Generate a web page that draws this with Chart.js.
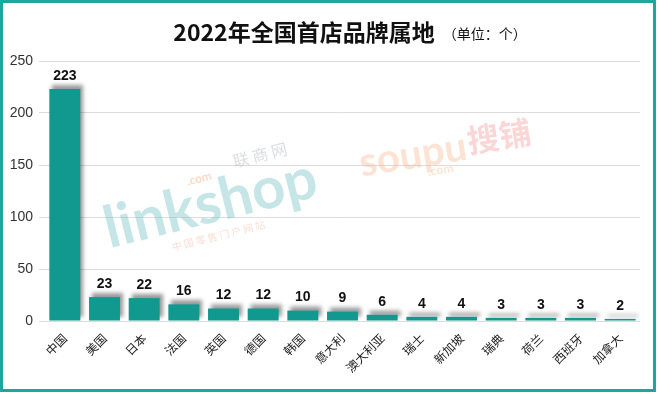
<!DOCTYPE html>
<html><head><meta charset="utf-8">
<script src="https://cdn.jsdelivr.net/npm/chart.js@4/dist/chart.umd.min.js"></script>
<style>html,body{margin:0;padding:0;background:#fff}#wrap{width:660px;height:394px;position:relative}</style>
</head><body><div id="wrap"><canvas id="c" width="660" height="394"></canvas></div>
<script>
const categories = ['中国','美国','日本','法国','英国','德国','韩国','意大利','澳大利亚','瑞士','新加坡','瑞典','荷兰','西班牙','加拿大'];
const brandCounts = [223,23,22,16,12,12,10,9,6,4,4,3,3,3,2];
const yTicks = [0,50,100,150,200,250];
const titleMain = '2022年全国首店品牌属地';
const titleUnit = '（单位：个）';

const FONT = '"Noto Sans CJK SC","Noto Sans",sans-serif';
const NUMFONT = '"Liberation Sans",Arial,sans-serif';
const TEAL = '#11998f';

const framePlugin = {
  id:'frame',
  beforeDraw(chart){
    const c = chart.ctx;
    c.save();
    c.fillStyle='#fff';c.fillRect(0,0,chart.width,chart.height);
    c.fillStyle='#111';
    c.textBaseline='middle';
    c.font='bold 23px '+FONT;
    const w1=c.measureText(titleMain).width;
    c.font='14px '+FONT;
    const w2=c.measureText(titleUnit).width;
    const x0=350-(w1+w2+8)/2;
    c.font='bold 23px '+FONT;
    c.textAlign='left';
    c.fillText(titleMain,x0,32);
    c.font='14px '+FONT;
    c.fillText(titleUnit,x0+w1+8,34);
    c.restore();
  },
  afterDraw(chart){
    const c=chart.ctx;
    c.save();
    c.strokeStyle='#1ea79e';c.lineWidth=3;
    c.strokeRect(1.5,1.5,chart.width-7,chart.height-5);
    c.restore();
  }
};
const watermarkPlugin = {
  id:'watermark',
  beforeDatasetsDraw(chart){
    const c=chart.ctx;
    c.save();
    c.translate(215,222);c.rotate(-14*Math.PI/180);
    c.textAlign='center';c.textBaseline='alphabetic';
    c.font='bold 58px Lato,sans-serif';
    c.fillStyle='rgba(110,190,196,0.40)';
    c.fillText('linkshop',0,0);
    c.font='16px '+FONT;c.fillStyle='rgba(150,160,170,0.35)';
    c.fillText('联 商 网',60,-48);
    c.font='10px '+FONT;c.fillStyle='rgba(240,160,130,0.35)';
    c.fillText('中 国 零 售 门 户 网 站',0,18);
    c.font='bold 12px Lato,sans-serif';c.fillStyle='rgba(245,170,120,0.45)';
    c.fillText('.com',-5,-42);
    c.restore();
    c.save();
    c.translate(415,168);c.rotate(-9*Math.PI/180);
    c.textAlign='center';
    c.font='bold 40px Lato,sans-serif';
    c.fillStyle='rgba(245,175,130,0.35)';
    c.fillText('soupu',0,0);
    c.font='bold 12px Lato,sans-serif';
    c.fillText('.com',25,10);
    c.font='bold 32px '+FONT;c.fillStyle='rgba(240,120,120,0.30)';
    c.fillText('搜铺',88,-6);
    c.restore();
  }
};
const shadowPlugin = {
  id:'shadow',
  beforeDatasetsDraw(chart){
    const c=chart.ctx;c.save();
    c.shadowColor='rgba(0,0,0,0.4)';c.shadowBlur=4;c.shadowOffsetX=3;c.shadowOffsetY=-4;
  },
  afterDatasetsDraw(chart){
    const c=chart.ctx;c.restore();
    c.save();
    c.fillStyle='#111';c.font='bold 14px '+NUMFONT;c.textAlign='center';c.textBaseline='bottom';
    const meta=chart.getDatasetMeta(0);
    meta.data.forEach((el,i)=>{c.fillText(String(chart.data.datasets[0].data[i]),el.x,el.y-6);});
    c.restore();
  }
};

new Chart(document.getElementById('c'),{
  type:'bar',
  data:{labels:categories,datasets:[{data:brandCounts,backgroundColor:TEAL,barPercentage:0.78,categoryPercentage:1}]},
  options:{
    responsive:false,animation:false,
    layout:{padding:{top:61,left:3,right:20,bottom:0}},
    plugins:{legend:{display:false},tooltip:{enabled:false}},
    scales:{
      x:{grid:{display:false},border:{display:false},
         ticks:{color:'#222',font:{family:FONT,size:12},maxRotation:45,minRotation:45,autoSkip:false,padding:2},
         afterFit(s){s.height=73;}},
      y:{min:0,max:250,afterBuildTicks(s){s.ticks=yTicks.map(v=>({value:v}));},
         grid:{color:'#dcdcdc',tickLength:6},border:{display:false},
         ticks:{color:'#333',font:{family:NUMFONT,size:14},padding:6},
         afterFit(s){s.width=42;}}
    }
  },
  plugins:[framePlugin,watermarkPlugin,shadowPlugin]
});
</script></body></html>
